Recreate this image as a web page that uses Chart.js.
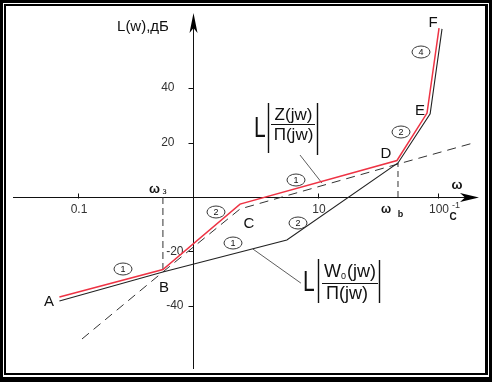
<!DOCTYPE html>
<html><head><meta charset="utf-8">
<script src="https://cdn.jsdelivr.net/npm/chart.js@4.4.1/dist/chart.umd.min.js"></script>
<style>html,body{margin:0;padding:0;background:#fff;}canvas{display:block;}</style>
</head><body>
<canvas id="c" width="492" height="382"></canvas>
<script>
// ---- data (ω in s^-1, L in dB) ----
const omegaZ  = [0.07, 0.51, 2.24, 45.5, 81, 102];
const dbZ     = [-36.7, -26.6, -2.6, 13.4, 30.8, 62.0];
const omegaW0 = [0.07, 0.51, 5.5, 46.4, 86, 108];
const dbW0    = [-38.2, -27.5, -15.8, 12.5, 30.5, 61.7];
const omegaAsym = [0.108, 0.51, 2.24, 46.4, 196];
const dbAsym    = [-52.1, -27.5, -4.4, 12.1, 19.8];
const omegaA = 0.51, dbA = -27.5;   // ω_з (point B)
const omegaB = 46.4, dbB = 12.5;    // ω_b (point D)
const leaderZomega = [7.08, 10.8], leaderZdb = [15.4, 5.1];
const leaderWomega = [2.87, 7.2],  leaderWdb = [-19.1, -31.6];
const xTickValues = [0.1, 10, 100];
const xTickLabels = ['0.1', '10', '100'];
const yTickValues = [40, 20, -20, -40];
const yTickLabels = ['40', '20', '-20', '-40'];
const yAxisAt = 0.91;
const xMin = 0.02873, xMax = 215.4, yMin = -63.12, yMax = 66.79;

const pts = (xs, ys) => xs.map((x, i) => ({x: x, y: ys[i]}));
const FF = "'Liberation Sans', Arial, sans-serif";

function txt(c, s, x, y, font, align, color) {
  c.font = font; c.textAlign = align || 'center'; c.textBaseline = 'middle';
  c.fillStyle = color || '#111'; c.fillText(s, x, y);
}

const decor = {
  id: 'decor',
  beforeDraw(chart) {
    const c = chart.ctx;
    c.save();
    c.fillStyle = '#000'; c.fillRect(0, 0, 492, 382);
    c.fillStyle = '#fff'; c.fillRect(3, 3, 486, 374);
    c.fillStyle = '#000'; c.fillRect(4, 4, 484, 371);
    c.fillStyle = '#fff'; c.fillRect(6, 6, 479, 367);
    c.restore();
  },
  beforeDatasetsDraw(chart) {
    const c = chart.ctx, xs = chart.scales.x, ys = chart.scales.y, a = chart.chartArea;
    const y0 = Math.round(ys.getPixelForValue(0)) + 0.5;
    const xa = Math.round(xs.getPixelForValue(yAxisAt)) + 0.5;
    c.save();
    c.strokeStyle = '#111'; c.lineWidth = 1;
    c.beginPath();
    c.moveTo(a.left, y0); c.lineTo(a.right - 4, y0);
    c.moveTo(xa, a.top + 12); c.lineTo(xa, a.bottom);
    c.stroke();
    // arrows
    c.fillStyle = '#000';
    c.beginPath();
    c.moveTo(xa, a.top - 2); c.lineTo(xa + 4, a.top + 18); c.lineTo(xa, a.top + 13); c.lineTo(xa - 4, a.top + 18);
    c.closePath(); c.fill();
    c.beginPath();
    c.moveTo(a.right + 1, y0); c.lineTo(a.right - 18, y0 - 4.5); c.lineTo(a.right - 13, y0); c.lineTo(a.right - 18, y0 + 4.5);
    c.closePath(); c.fill();
    // ticks
    c.beginPath();
    xTickValues.forEach(v => { const px = Math.round(xs.getPixelForValue(v)) + 0.5; c.moveTo(px, y0 - 4); c.lineTo(px, y0 + 1); });
    yTickValues.forEach(v => { const py = Math.round(ys.getPixelForValue(v)) + 0.5; c.moveTo(xa - 5, py); c.lineTo(xa, py); });
    c.stroke();
    // tick labels
    xTickValues.forEach((v, i) => txt(c, xTickLabels[i], xs.getPixelForValue(v) + 1, y0 + 12, '12px ' + FF, 'center', '#333'));
    yTickValues.forEach((v, i) => txt(c, yTickLabels[i], v > 0 ? xa - 19 : xa - 10, ys.getPixelForValue(v), '12px ' + FF, 'right', '#333'));
    c.restore();
  },
  afterDatasetsDraw(chart) {
    const c = chart.ctx;
    c.save();
    txt(c, 'L(w),дБ', 143, 27, '15px ' + FF);
    // omega labels
    txt(c, 'ω', 457, 185, 'bold 13px ' + FF);
    txt(c, 'ω', 154.5, 189, 'bold 13px ' + FF);
    txt(c, 'з', 164.5, 192, '9px ' + FF);
    txt(c, 'ω', 386, 210, 'bold 12px ' + FF);
    txt(c, 'b', 400.5, 215, 'bold 9px ' + FF);
    txt(c, '-1', 456, 206, '9px ' + FF, 'center', '#333');
    txt(c, 'C', 453, 217, 'bold 10px ' + FF);
    // point letters
    const L = [['A', 49, 302], ['B', 164, 288], ['C', 249, 224], ['D', 386, 154], ['E', 420, 111], ['F', 433, 23]];
    L.forEach(p => txt(c, p[0], p[1], p[2], '15px ' + FF));
    // circled numbers
    const C = [['1', 123, 269], ['2', 216, 212], ['1', 233, 243], ['1', 296, 180], ['2', 298, 223], ['2', 401, 132], ['4', 421, 52]];
    c.strokeStyle = '#222'; c.lineWidth = 0.9;
    C.forEach(p => {
      c.beginPath(); c.ellipse(p[1], p[2], 9, 6, 0, 0, Math.PI * 2); c.stroke();
      txt(c, p[0], p[1], p[2] + 0.5, '9px ' + FF);
    });
    // fraction label Z/П
    c.save(); c.translate(254, 137); c.scale(0.7, 1);
    c.font = '30px ' + FF; c.textAlign = 'left'; c.textBaseline = 'alphabetic'; c.fillStyle = '#111';
    c.fillText('L', 0, 0); c.restore();
    c.strokeStyle = '#111'; c.lineWidth = 1.4;
    c.beginPath();
    c.moveTo(268.5, 103); c.lineTo(268.5, 153);
    c.moveTo(317.5, 103); c.lineTo(317.5, 155);
    c.stroke();
    c.lineWidth = 1; c.beginPath(); c.moveTo(271, 124.5); c.lineTo(315, 124.5); c.stroke();
    c.textBaseline = 'alphabetic'; c.textAlign = 'center'; c.fillStyle = '#111';
    c.font = '17px ' + FF;
    c.fillText('Z(jw)', 293.5, 120);
    c.fillText('Π(jw)', 293.5, 140);
    // fraction label W0/П
    c.save(); c.translate(303, 291); c.scale(0.7, 1);
    c.font = '30px ' + FF; c.textAlign = 'left'; c.fillText('L', 0, 0); c.restore();
    c.lineWidth = 1.4; c.beginPath();
    c.moveTo(318.5, 259); c.lineTo(318.5, 303);
    c.moveTo(379.5, 260); c.lineTo(379.5, 303);
    c.stroke();
    c.lineWidth = 1; c.beginPath(); c.moveTo(322, 283.5); c.lineTo(378, 283.5); c.stroke();
    c.font = '18px ' + FF; c.textAlign = 'left';
    const wW = c.measureText('W').width;
    c.font = '9px ' + FF; const w0 = c.measureText('0').width;
    c.font = '18px ' + FF; const wj = c.measureText('(jw)').width;
    let sx = 350 - (wW + w0 + 1 + wj) / 2;
    c.fillText('W', sx, 277); sx += wW;
    c.font = '9px ' + FF; c.fillText('0', sx, 279); sx += w0 + 1;
    c.font = '18px ' + FF; c.fillText('(jw)', sx, 277);
    c.textAlign = 'center'; c.fillText('Π(jw)', 347, 299);
    c.restore();
  }
};

new Chart(document.getElementById('c').getContext('2d'), {
  type: 'scatter',
  data: { datasets: [
    { label: 'L|Z(jw)/П(jw)|', data: pts(omegaZ, dbZ), showLine: true, borderColor: '#ee3344', borderWidth: 1.5, pointRadius: 0 },
    { label: 'L|W0(jw)/П(jw)|', data: pts(omegaW0, dbW0), showLine: true, borderColor: '#222', borderWidth: 1.1, pointRadius: 0 },
    { label: 'asymptote', data: pts(omegaAsym, dbAsym), showLine: true, borderColor: '#333', borderWidth: 1, borderDash: [9, 6], pointRadius: 0 },
    { label: 'ω_з', data: pts([omegaA, omegaA], [0, dbA]), showLine: true, borderColor: '#333', borderWidth: 1, borderDash: [7, 4], pointRadius: 0 },
    { label: 'ω_b', data: pts([omegaB, omegaB], [0, dbB]), showLine: true, borderColor: '#333', borderWidth: 1, borderDash: [6, 4], pointRadius: 0 },
    { label: 'leader Z', data: pts(leaderZomega, leaderZdb), showLine: true, borderColor: '#333', borderWidth: 0.8, pointRadius: 0 },
    { label: 'leader W0', data: pts(leaderWomega, leaderWdb), showLine: true, borderColor: '#333', borderWidth: 0.8, pointRadius: 0 }
  ]},
  options: {
    responsive: false, animation: false, events: [],
    plugins: { legend: { display: false }, tooltip: { enabled: false } },
    layout: { padding: { left: 13, right: 14, top: 15, bottom: 13 } },
    scales: {
      x: { type: 'logarithmic', min: xMin, max: xMax, display: false },
      y: { type: 'linear', min: yMin, max: yMax, display: false }
    }
  },
  plugins: [decor]
});
</script>
</body></html>
